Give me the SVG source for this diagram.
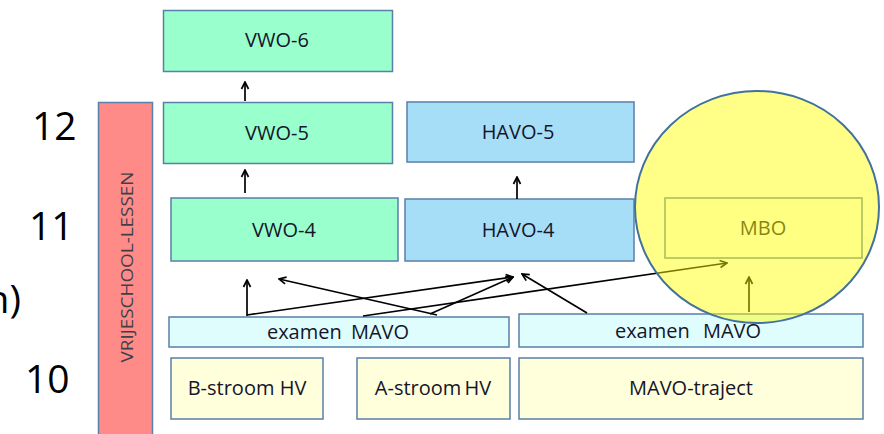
<svg xmlns="http://www.w3.org/2000/svg" width="884" height="434" viewBox="0 0 884 434">
<defs>
<marker id="arr" markerWidth="10" markerHeight="10" viewBox="0 0 10 10" refX="9" refY="5" orient="auto" markerUnits="userSpaceOnUse">
<path d="M2,1.5 L9,5 L2,8.5" fill="none" stroke="#000" stroke-width="1.7"/>
</marker>
</defs>
<style>
.box{stroke:#5a7fa8;stroke-width:1.5}
.g{fill:#99FFCC}
.b{fill:#A6DEF7}
.y{fill:#FFFFDC}
.c{fill:#E0FDFE}
.w{fill:#FFFFF4}
.t{font-family:"Open Sans","Liberation Sans",Arial,sans-serif;font-size:20px;fill:#15152a;text-anchor:middle}
.n{font-family:"Open Sans","Liberation Sans",Arial,sans-serif;font-size:39px;fill:#000}
.conn line{stroke:#000;stroke-width:1.7;marker-end:url(#arr)}
</style>
<rect width="884" height="434" fill="#fff"/>
<g id="labels">
<text class="n" x="32" y="140">12</text>
<text class="n" x="29" y="240">11</text>
<text class="n" x="25" y="393">10</text>
<text class="n" x="21" y="313" text-anchor="end">n)</text>
</g>
<g id="vrijeschool">
<rect class="box" x="98.5" y="102.5" width="54" height="340" fill="#FF8B88"/>
<text x="133" y="267" transform="rotate(-90 133 267)" font-family="Open Sans, Liberation Sans, Arial, sans-serif" font-size="17" fill="#404048" text-anchor="middle" textLength="191" lengthAdjust="spacingAndGlyphs">VRIJESCHOOL-LESSEN</text>
</g>
<g id="vwo6"><rect class="box g" x="163.5" y="10.5" width="229" height="61"/><text class="t" x="277" y="47">VWO-6</text></g>
<g id="vwo5"><rect class="box g" x="163.5" y="102.5" width="229" height="61"/><text class="t" x="277" y="140">VWO-5</text></g>
<g id="havo5"><rect class="box b" x="407" y="102" width="227" height="60"/><text class="t" x="518" y="139">HAVO-5</text></g>
<g id="vwo4"><rect class="box g" x="171" y="198" width="227" height="63"/><text class="t" x="284" y="237">VWO-4</text></g>
<g id="havo4"><rect class="box b" x="405" y="199" width="229" height="62"/><text class="t" x="518" y="237">HAVO-4</text></g>
<g id="mbo"><rect class="box w" x="665" y="198" width="197" height="60"/><text class="t" x="763" y="235">MBO</text></g>
<g id="examen1"><rect class="box c" x="169" y="317" width="340" height="30"/><text class="t" x="338" y="339" word-spacing="4">examen MAVO</text></g>
<g id="examen2"><rect class="box c" x="519" y="314" width="344" height="33"/><text class="t" x="688" y="338" word-spacing="8">examen MAVO</text></g>
<g id="bstroom"><rect class="box y" x="171" y="358" width="152" height="61"/><text class="t" x="247" y="395">B-stroom HV</text></g>
<g id="astroom"><rect class="box y" x="357" y="358" width="153" height="61"/><text class="t" x="433" y="395" word-spacing="-2">A-stroom HV</text></g>
<g id="mavotraject"><rect class="box y" x="519" y="358" width="344" height="61"/><text class="t" x="691" y="395">MAVO-traject</text></g>
<g id="connectors" class="conn">
<line x1="245" y1="101" x2="245" y2="82"/>
<line x1="245" y1="193" x2="245" y2="170"/>
<line x1="517" y1="199" x2="517" y2="177"/>
<line x1="247" y1="316" x2="247" y2="280"/>
<line x1="437" y1="315" x2="279" y2="279"/>
<line x1="247" y1="315" x2="513" y2="277"/>
<line x1="430" y1="314" x2="513" y2="277"/>
<line x1="587" y1="313" x2="522" y2="274"/>
<line x1="363" y1="316" x2="727" y2="263"/>
<line x1="749" y1="312" x2="749" y2="277"/>
</g>
<g id="highlight">
<ellipse cx="757" cy="207" rx="122" ry="116" fill="#FFFF00" fill-opacity="0.47" stroke="#41719C" stroke-width="2"/>
</g>
</svg>
